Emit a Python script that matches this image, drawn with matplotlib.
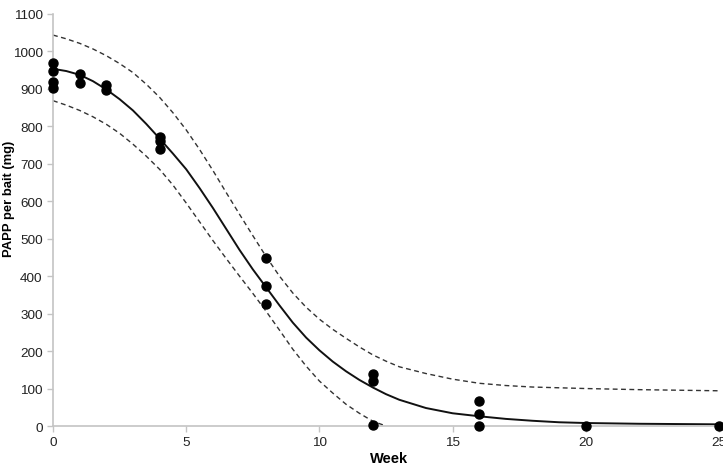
import matplotlib
matplotlib.use("Agg")
import matplotlib.pyplot as plt

plt.rcParams['font.family'] = ['Liberation Sans', 'DejaVu Sans']

# ---------------- datos observados ----------------
obs_week = [0, 0, 0, 0, 1, 1, 2, 2, 4, 4, 4, 8, 8, 8, 12, 12, 12, 16, 16, 16, 20, 25]
obs_papp = [968, 947, 917, 901, 938, 915, 910, 897, 772, 760, 740, 447, 374, 325,
            138, 119, 3, 66, 33, 0, 1, 0]

# ---------------- curva ajustada ----------------
fit_week = [0, 0.5, 1, 1.5, 2, 2.5, 3, 3.5, 4, 4.5, 5, 5.5, 6, 6.5, 7, 7.5, 8, 8.5,
            9, 9.5, 10, 10.5, 11, 11.5, 12, 12.5, 13, 14, 15, 16, 17, 18, 19, 20, 22, 25]
fit_mid = [953, 947, 937, 920, 898, 872, 842, 806, 767, 727, 685, 635, 582, 526,
           470, 418, 370, 322, 276, 236, 202, 172, 146, 123, 103, 85, 70, 48, 34,
           26, 19, 14, 10, 8, 6, 4.5]
fit_upper = [1043, 1033, 1021, 1006, 988, 967, 943, 912, 877, 836, 790, 738, 682,
             623, 565, 508, 452, 400, 355, 317, 285, 258, 234, 211, 190, 173, 158,
             140, 125, 114, 108, 104, 102, 100, 97, 94]

low_week = [0, 0.5, 1, 1.5, 2, 2.5, 3, 3.5, 4, 4.5, 5, 5.5, 6, 6.5, 7, 7.5, 8, 8.5,
            9, 9.5, 10, 10.5, 11, 11.5, 12, 12.5]
fit_lower = [868, 856, 842, 825, 805, 781, 752, 720, 685, 643, 595, 545, 495, 447,
             400, 354, 306, 256, 205, 160, 120, 88, 58, 34, 13, 0]

# ---------------- figura ----------------
fig = plt.figure(figsize=(7.23, 4.64), dpi=100)
ax = fig.add_axes([0.0733, 0.0797, 0.9212, 0.8886])

grey = '#c4c4c4'
ax.plot(fit_week, fit_upper, color='#333333', lw=1.0, ls=(0, (3.5, 2.5)))
ax.plot(low_week, fit_lower, color='#333333', lw=1.0, ls=(0, (3.5, 2.5)))
ax.plot(fit_week, fit_mid, color='#111111', lw=1.4)
ax.plot(obs_week, obs_papp, 'o', color='black', ms=6.5, clip_on=False, zorder=5)

ax.set_xlim(0, 25)
ax.set_ylim(0, 1100)
ax.set_xticks([0, 5, 10, 15, 20, 25])
ax.set_yticks(range(0, 1101, 100))

for s in ['top', 'right']:
    ax.spines[s].set_visible(False)
for s in ['left', 'bottom']:
    ax.spines[s].set_color(grey)
    ax.spines[s].set_linewidth(1.2)

ax.tick_params(axis='both', colors=grey, length=4, width=1, labelsize=9.7,
               labelcolor='#222222', pad=3.5)

ax.set_xlabel('Week', fontsize=10.5, fontweight='bold')
ax.set_ylabel('PAPP per bait (mg)', fontsize=9.4, fontweight='bold')
ax.xaxis.set_label_coords(0.505, -0.06)
ax.yaxis.set_label_coords(-0.057, 0.554)

fig.savefig('out.png', dpi=100)
